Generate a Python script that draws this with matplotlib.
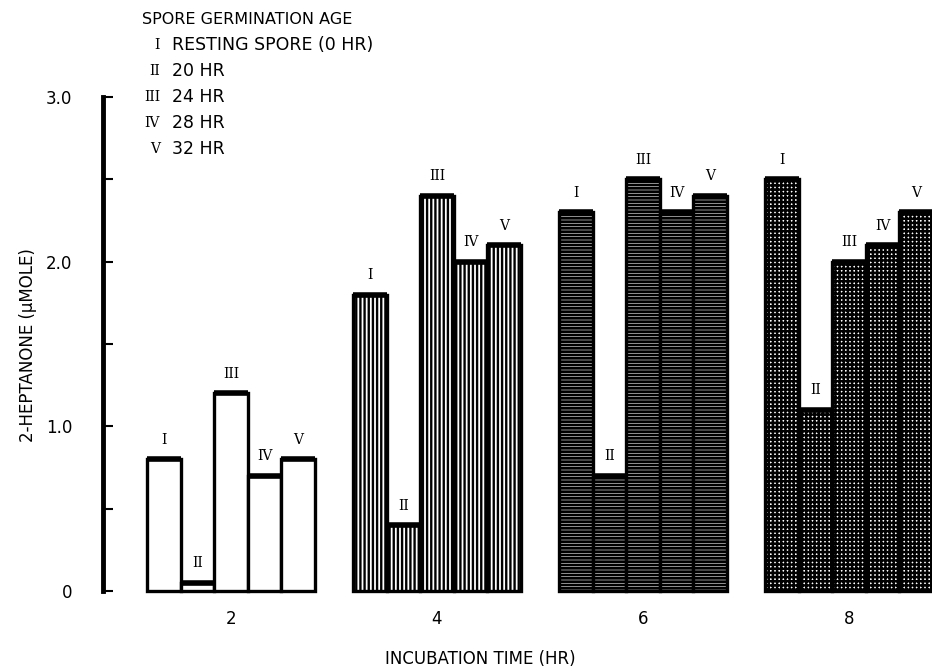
import numpy as np
import matplotlib
matplotlib.use("Agg")
import matplotlib.pyplot as plt

plt.rcParams["font.family"] = ["DejaVu Sans"]
plt.rcParams["hatch.linewidth"] = 1.4

# incubation time groups and spore germination ages
INCUBATION = ["2", "4", "6", "8"]
AGES = ["I", "II", "III", "IV", "V"]
AGE_TEXT = ["RESTING SPORE (0 HR)", "20 HR", "24 HR", "28 HR", "32 HR"]

# 2-heptanone (umole), one list per incubation time, order I..V
HEPT_2 = [0.80, 0.05, 1.20, 0.70, 0.80]
HEPT_4 = [1.80, 0.40, 2.40, 2.00, 2.10]
HEPT_6 = [2.30, 0.70, 2.50, 2.30, 2.40]
HEPT_8 = [2.50, 1.10, 2.00, 2.10, 2.30]
VALUES = [HEPT_2, HEPT_4, HEPT_6, HEPT_8]
HATCHES = [None, "||||", "-----", "++++"]
HATCH_LW = [1.0, 1.7, 2.0, 1.8]

fig = plt.figure(figsize=(9.32, 6.71), dpi=100)
ax = fig.add_axes([103 / 932, 1 - 591 / 671, 1 - 103 / 932, (591 - 97) / 671])

W = 0.163
for g, vals in enumerate(VALUES):
    xs = g + (np.arange(len(vals)) - 2) * W
    bars = ax.bar(xs, vals, width=W, facecolor="white", edgecolor="black",
                  linewidth=2.4, hatch=HATCHES[g], clip_on=False)
    for b in bars:
        if hasattr(b, "set_hatch_linewidth"):
            b.set_hatch_linewidth(HATCH_LW[g])
    # thicker top edge, like the inked original
    ax.hlines(vals, xs - W / 2, xs + W / 2, color="black", lw=4.0,
              clip_on=False, zorder=3)
    for x, v, lab in zip(xs, vals, AGES):
        ax.annotate(lab, (x, v), xytext=(0, 9), textcoords="offset points",
                    ha="center", va="bottom", fontsize=10,
                    family="DejaVu Serif")

ax.set_xlim(-0.621, 3.403)
ax.set_ylim(0, 3.0)
for s in ["top", "right", "bottom"]:
    ax.spines[s].set_visible(False)
ax.spines["left"].set_linewidth(3.5)

ax.set_yticks([0, 1, 2, 3])
ax.set_yticklabels(["0", "1.0", "2.0", "3.0"], fontsize=12)
ax.set_yticks([0.5, 1.5, 2.5], minor=True)
ax.tick_params(axis="y", which="both", direction="in", length=7, width=1.5,
               pad=22)
ax.set_xticks(range(len(INCUBATION)))
ax.set_xticklabels(INCUBATION, fontsize=12)
ax.tick_params(axis="x", length=0, pad=14)

ax.set_xlabel("INCUBATION TIME (HR)", fontsize=12, va="center")
ax.xaxis.set_label_coords((480 - 103) / 829, (591 - 659) / 494)
ax.set_ylabel("2-HEPTANONE (\u03bcMOLE)", fontsize=12, va="center")
ax.yaxis.set_label_coords((28 - 103) / 829, (591 - 345) / 494)

# key for germination ages
fig.text(142 / 932, 1 - 19 / 671, "SPORE GERMINATION AGE", fontsize=11.5,
         ha="left", va="center")
for i, (num, txt) in enumerate(zip(AGES, AGE_TEXT)):
    y = 1 - (45 + 26 * i) / 671
    fig.text(160 / 932, y, num, fontsize=10, ha="right", va="center",
             family="DejaVu Serif")
    fig.text(172 / 932, y, txt, fontsize=12.5, ha="left", va="center")

fig.savefig("out.png", dpi=100)
